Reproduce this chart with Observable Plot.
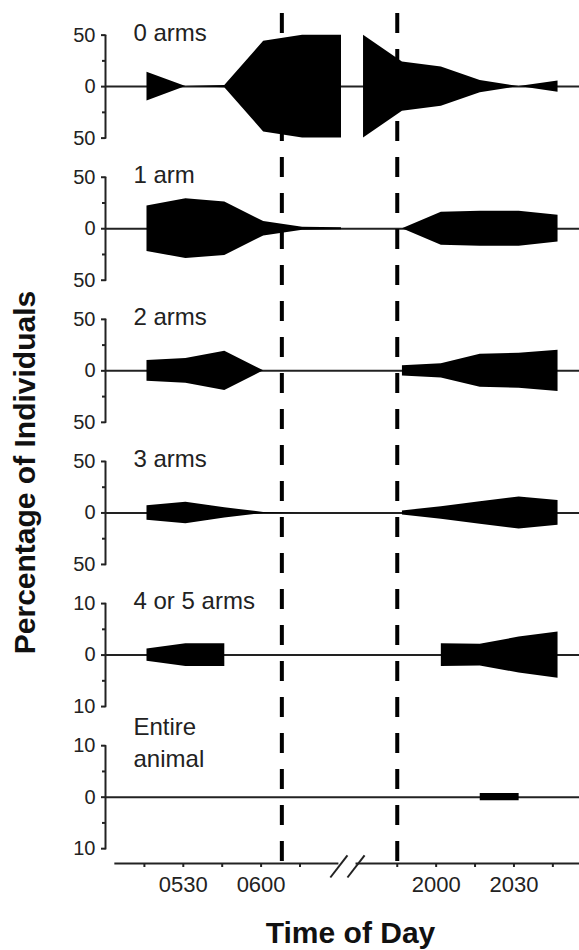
<!DOCTYPE html>
<html><head><meta charset="utf-8">
<script src="https://cdn.jsdelivr.net/npm/d3@7"></script>
<script src="https://cdn.jsdelivr.net/npm/@observablehq/plot@0.6"></script>
<style>body{margin:0;background:#fff}</style>
</head><body><div id="chart"></div>
<script>
// ---- data ----
const times = ["0516","0531","0546","0601","0616","0631","1932","1947","2002","2017","2032","2047"];
const panelNames = ["0 arms","1 arm","2 arms","3 arms","4 or 5 arms","Entire\nanimal"];
const panelMax = [50, 50, 50, 50, 10, 10];
const arms0  = [14, 0, 1, 44, 50, 50, 50, 24, 19, 6, 0, 5.5];
const arms1  = [22, 29, 26, 7, 1.5, 1, 0, 0, 16, 17, 17, 13];
const arms2  = [10, 12, 19, 0, 0, 0, null, 5, 7, 16, 17, 20];
const arms3  = [7, 10.5, 5, 0.5, 0, 0, null, 2, 6, 11, 15.5, 12];
const arms45 = [1.2, 2.2, 2.2, null, null, null, null, null, 2.2, 2.1, 3.5, 4.5];
const entire = [null, null, null, null, null, null, null, null, null, 0.7, 0.7, null];
const series = [arms0, arms1, arms2, arms3, arms45, entire];
const tickTimes = ["0515","0530","0545","0600","0615","1945","2000","2015","2030","2045"];
const labeledTimes = ["0530","0600","2000","2030"];
const lightChanges = ["0608","1945"];   // dashed lines (sunrise / sunset)

// ---- layout helpers ----
const step = 138;            // composite-y units between panel baselines
const yTop = 71, yBottom = -754.4;
const xMax = 12.185;
const axisSegments = [[0.24, 6.0], [6.44, xMax]];
const axisBreak = [6.0, 6.44];
const labelSlot = 0.72;

function slot(t) {
  const m = +t.slice(0, 2) * 60 + +t.slice(2);
  return m < 720 ? (m - 300) / 15 : (m - 1170) / 15 + 6.5;
}

const panels = panelNames.map((name, i) => ({i, name, max: panelMax[i], off: -i * step, k: 50 / panelMax[i]}));
const rows = [];
panels.forEach(p => {
  series[p.i].forEach((v, j) => {
    rows.push({panel: p.i, side: j < 6 ? "am" : "pm", x: slot(times[j]),
      lo: v == null ? NaN : p.off - v * p.k, hi: v == null ? NaN : p.off + v * p.k});
  });
});
// endpoints of each panel's vertical axis line (at the left edge of the x domain)
const axisPts = panels.flatMap(p => [{panel: p.i, x: 0, y: p.off + 50}, {panel: p.i, x: 0, y: p.off - 50}]);

const majorTicks = [], majorLabel = new Map(), minorTicks = [];
panels.forEach(p => {
  majorTicks.push(p.off + 50, p.off, p.off - 50);
  majorLabel.set(p.off + 50, String(p.max));
  majorLabel.set(p.off, "0");
  majorLabel.set(p.off - 50, String(p.max));
  minorTicks.push(p.off + 25, p.off - 25);
});
const xLabel = new Map(labeledTimes.map(t => [slot(t), t]));

const chart = Plot.plot({
  width: 579, height: 950,
  marginTop: 13, marginBottom: 87, marginLeft: 105, marginRight: 0,
  style: {fontFamily: "'Liberation Sans', Arial, sans-serif", background: "white", color: "#222", overflow: "visible"},
  x: {domain: [0, xMax]},
  y: {domain: [yBottom, yTop]},
  marks: [
    Plot.ruleY(panels, {y: "off", x1: () => 0, x2: () => xMax, stroke: "#222", strokeWidth: 2}),
    Plot.ruleX(lightChanges.map(slot), {x: d => d, y1: () => yTop, y2: () => yBottom, stroke: "black", strokeWidth: 4, strokeDasharray: "20,16"}),
    Plot.areaY(rows, {x: "x", y1: "lo", y2: "hi", z: d => d.panel + d.side, fill: "black", curve: "linear"}),
    Plot.axisY({ticks: majorTicks, tickFormat: d => majorLabel.get(d), tickSize: 4, tickPadding: 6, fontSize: 20, strokeWidth: 2, label: null}),
    Plot.axisY({ticks: minorTicks, tickFormat: () => "", tickSize: 3, tickPadding: 0, strokeWidth: 2, label: null}),
    Plot.ruleY(axisSegments, {y: () => yBottom, x1: d => d[0], x2: d => d[1], stroke: "#222", strokeWidth: 2}),
    Plot.link(axisBreak, {x1: d => d - 0.22, x2: d => d + 0.22, y1: () => yBottom - 13.6, y2: () => yBottom + 7.8, stroke: "#222", strokeWidth: 2}),
    Plot.axisX({ticks: tickTimes.map(slot), tickFormat: d => xLabel.get(d) ?? "", tickSize: 4, tickPadding: 9, fontSize: 22, strokeWidth: 2, label: null}),
    Plot.text(panels, {x: () => labelSlot, y: d => d.off + 55, text: "name", textAnchor: "start", lineAnchor: "middle", fontSize: 24, lineHeight: 1.37, fill: "#222"}),
    Plot.text(["Percentage of Individuals"], {text: d => d, frameAnchor: "left", textAnchor: "middle", lineAnchor: "middle", dx: -80, dy: 34, rotate: -90, fontSize: 30, fontWeight: "bold", fill: "#111"}),
    Plot.text(["Time of Day"], {text: d => d, frameAnchor: "bottom", textAnchor: "middle", lineAnchor: "middle", dx: 8, dy: 70, fontSize: 30, fontWeight: "bold", fill: "#111"}),
    Plot.line(axisPts, {x: "x", y: "y", z: "panel", stroke: "#222", strokeWidth: 2})
  ]
});
document.getElementById("chart").appendChild(chart);
</script>
</body></html>
